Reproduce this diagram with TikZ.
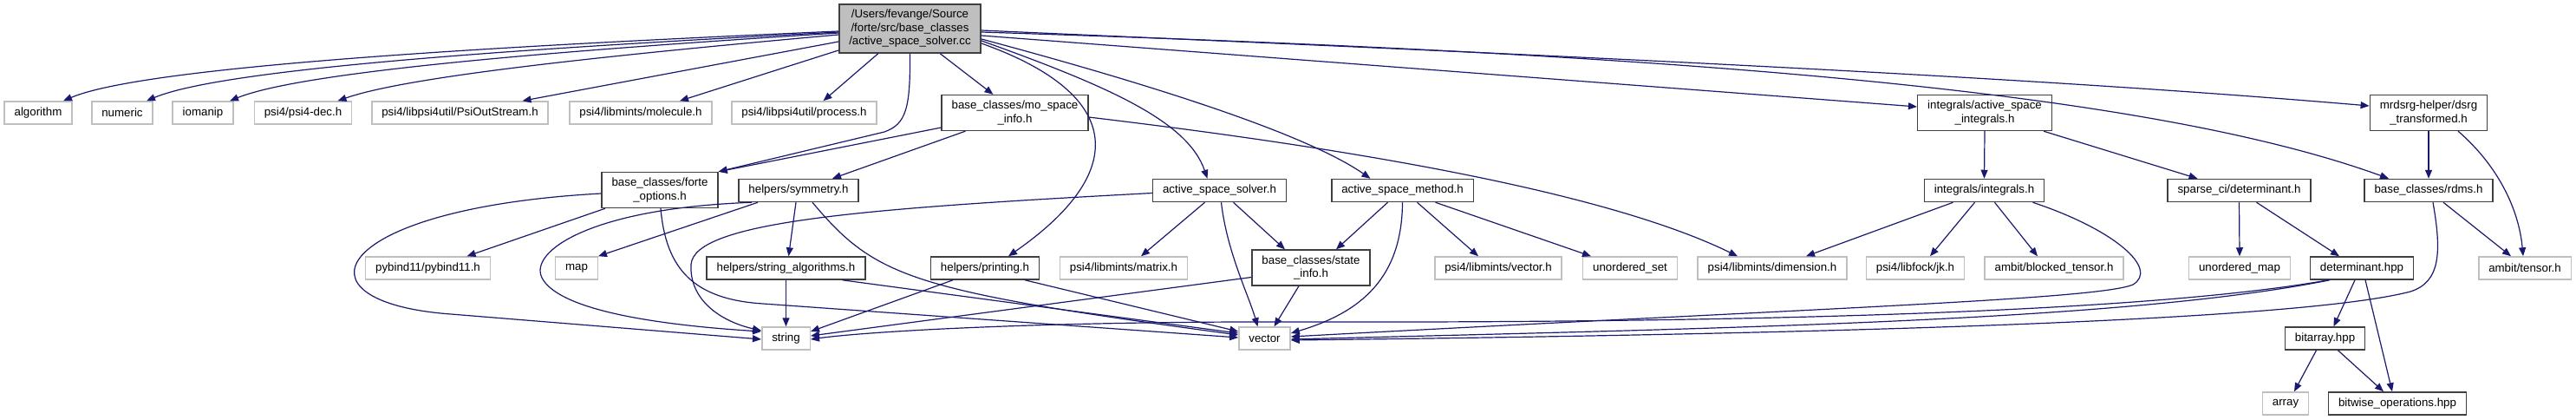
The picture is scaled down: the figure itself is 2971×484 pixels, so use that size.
\documentclass[tikz,border=0pt]{standalone}
\usepackage{fontspec}
\setmainfont{Liberation Sans}
\usetikzlibrary{arrows.meta}
\definecolor{edgec}{HTML}{191970}
\definecolor{extc}{HTML}{BFBFBF}
\definecolor{docc}{HTML}{404040}
\definecolor{rootfill}{HTML}{BFBFBF}
\begin{document}
\begin{tikzpicture}[x=1pt,y=-1pt,
  box/.style={draw, line width=1.5pt, inner xsep=11.5pt, inner ysep=6.5pt, minimum height=26pt, align=center, font=\fontsize{13.3}{15.5}\selectfont},
  doc/.style={box, draw=docc},
  ext/.style={box, draw=extc},
  rootbox/.style={box, draw=docc, fill=rootfill},
  lnk/.style={draw=edgec, line width=1.2pt, -{Triangle[length=10pt,width=8pt]}}
]
\fill[white] (0,0) rectangle (2971,484);
\useasboundingbox (0,0) rectangle (2971,484);

\node[rootbox] (root) at (1049.5,33) {/Users/fevange/Source\\/forte/src/base\_classes\\/active\_space\_solver.cc};
\node[ext] (algorithm) at (44,130) {algorithm};
\node[ext] (numeric) at (141,130) {numeric};
\node[ext] (iomanip) at (234,130) {iomanip};
\node[ext] (psidec) at (349.5,130) {psi4/psi4-dec.h};
\node[ext] (psiout) at (530.5,130) {psi4/libpsi4util/PsiOutStream.h};
\node[ext] (molecule) at (739,130) {psi4/libmints/molecule.h};
\node[ext] (process) at (927.5,130) {psi4/libpsi4util/process.h};
\node[doc] (mospace) at (1170.5,130) {base\_classes/mo\_space\\\_info.h};
\node[doc] (asint) at (2289,130) {integrals/active\_space\\\_integrals.h};
\node[doc] (dsrg) at (2801,130) {mrdsrg-helper/dsrg\\\_transformed.h};
\node[doc] (forte) at (761,219) {base\_classes/forte\\\_options.h};
\node[doc] (symmetry) at (921,219.5) {helpers/symmetry.h};
\node[doc] (assolver) at (1406.5,219.5) {active\_space\_solver.h};
\node[doc] (asmethod) at (1617.5,219.5) {active\_space\_method.h};
\node[doc] (integrals) at (2288.5,219.5) {integrals/integrals.h};
\node[doc] (sparsedet) at (2582.5,219.5) {sparse\_ci/determinant.h};
\node[doc] (rdms) at (2801,219.5) {base\_classes/rdms.h};
\node[ext] (pybind) at (493.5,309) {pybind11/pybind11.h};
\node[ext] (map) at (665,309) {map};
\node[doc] (stralg) at (906.5,309) {helpers/string\_algorithms.h};
\node[doc] (printing) at (1136,309) {helpers/printing.h};
\node[ext] (matrix) at (1296,309) {psi4/libmints/matrix.h};
\node[doc] (stateinfo) at (1512,308.5) {base\_classes/state\\\_info.h};
\node[ext] (vectorh) at (1728,309) {psi4/libmints/vector.h};
\node[ext] (uset) at (1880,309) {unordered\_set};
\node[ext] (dimension) at (2044,309) {psi4/libmints/dimension.h};
\node[ext] (jk) at (2209,309) {psi4/libfock/jk.h};
\node[ext] (blocked) at (2369,309) {ambit/blocked\_tensor.h};
\node[ext] (umap) at (2583,309) {unordered\_map};
\node[doc] (dethpp) at (2724,309) {determinant.hpp};
\node[ext] (tensor) at (2912,309) {ambit/tensor.h};
\node[ext] (string) at (906.5,390) {string};
\node[ext] (vector) at (1458.5,390) {vector};
\node[doc] (bitarray) at (2681.5,390) {bitarray.hpp};
\node[ext] (array) at (2636,465) {array};
\node[doc] (bitwise) at (2765,465) {bitwise\_operations.hpp};

% root
\draw[lnk] ([yshift=-3pt]root.west) .. controls (600,52) and (170,75) .. ([xshift=29pt]algorithm.north);
\draw[lnk] ([yshift=-4pt]root.west) .. controls (620,55) and (260,78) .. ([xshift=28pt]numeric.north);
\draw[lnk] ([yshift=-5pt]root.west) .. controls (650,58) and (350,82) .. ([xshift=31pt]iomanip.north);
\draw[lnk] ([yshift=-7pt]root.west) .. controls (700,64) and (470,88) .. ([xshift=40pt]psidec.north);
\draw[lnk] ([yshift=-15pt]root.west) -- ([xshift=72pt]psiout.north);
\draw[lnk] ([yshift=-25pt]root.west) -- ([xshift=45pt]molecule.north);
\draw[lnk] ([xshift=-37pt]root.south) -- ([xshift=22pt]process.north);
\draw[lnk] ([xshift=35pt]root.south) -- ([xshift=-25pt]mospace.north);
\draw[lnk] (root.south) .. controls (1050,125) and (1045,143) .. (1020,152) -- (forte.north east);
\draw[lnk] ([yshift=-17pt]root.east) .. controls (1300,110) and (1300,200) .. ([xshift=27pt]printing.north);
\draw[lnk] ([yshift=-14pt]root.east) .. controls (1280,100) and (1370,140) .. ([xshift=-14pt]assolver.north);
\draw[lnk] ([yshift=-12pt]root.east) .. controls (1300,90) and (1500,150) .. ([xshift=-37pt]asmethod.north);
\draw[lnk] ([yshift=-8pt]root.east) -- ([yshift=7pt]asint.west);
\draw[lnk] ([yshift=-2pt]root.east) .. controls (1700,60) and (2300,85) .. ([yshift=8pt]dsrg.west);
\draw[lnk] ([yshift=-4pt]root.east) .. controls (1850,60) and (2450,95) .. ([xshift=-46pt]rdms.north);
% mo_space_info
\draw[lnk] ([yshift=-17pt]mospace.west) -- (forte.north east);
\draw[lnk] ([xshift=-57pt]mospace.south) -- ([xshift=39pt]symmetry.north);
\draw[lnk] ([yshift=-5pt]mospace.east) .. controls (1550,170) and (1850,220) .. ([xshift=-40pt]dimension.north);
% forte_options
\draw[lnk] ([xshift=-63pt]forte.south) -- ([xshift=45pt]pybind.north);
\draw[lnk] ([yshift=-4pt]forte.west) .. controls (380,240) and (330,348) .. (520,362) -- ([yshift=-1pt]string.west);
\draw[lnk] ([xshift=1pt]forte.south) .. controls (768,310) and (800,345) .. (880,350) -- ([yshift=1pt]vector.west);
% symmetry
\draw[lnk] ([xshift=-47pt]symmetry.south) -- ([xshift=25pt]map.north);
\draw[lnk] ([xshift=-54pt]symmetry.south) .. controls (680,240) and (610,290) .. (625,320) .. controls (640,350) and (720,372) .. ([yshift=8pt]string.west);
\draw[lnk] ([xshift=-3pt]symmetry.south) -- ([xshift=3pt]stralg.north);
\draw[lnk] ([xshift=16pt]symmetry.south) .. controls (1010,320) and (1050,335) .. ([yshift=4pt]vector.west);
% string_algorithms
\draw[lnk] (stralg.south) -- (string.north);
\draw[lnk] ([xshift=65pt]stralg.south) -- ([yshift=6pt]vector.west);
% printing
\draw[lnk] ([xshift=-37pt]printing.south) -- ([yshift=8pt]string.east);
\draw[lnk] ([xshift=46pt]printing.south) -- ([yshift=8pt]vector.west);
% active_space_solver
\draw[lnk] ([yshift=-3pt]assolver.west) .. controls (1000,240) and (800,255) .. (797,305) .. controls (795,345) and (830,370) .. ([yshift=9pt]string.west);
\draw[lnk] ([xshift=-17pt]assolver.south) -- ([xshift=20pt]matrix.north);
\draw[lnk] ([xshift=2pt]assolver.south) .. controls (1415,290) and (1440,340) .. ([xshift=-8pt]vector.north);
\draw[lnk] ([xshift=16pt]assolver.south) -- ([xshift=-30pt]stateinfo.north);
% active_space_method
\draw[lnk] ([xshift=-17pt]asmethod.south) -- ([xshift=29pt]stateinfo.north);
\draw[lnk] (asmethod.south) .. controls (1617,320) and (1570,360) .. ([yshift=6pt]vector.east);
\draw[lnk] ([xshift=17pt]asmethod.south) -- ([xshift=-23pt]vectorh.north);
\draw[lnk] ([xshift=38pt]asmethod.south) -- ([xshift=-45pt]uset.north);
% state_info
\draw[lnk] ([yshift=-11pt]stateinfo.west) -- ([yshift=3pt]string.east);
\draw[lnk] ([xshift=-14pt]stateinfo.south) -- ([xshift=11pt]vector.north);
% integrals
\draw[lnk] ([xshift=-36pt]integrals.south) -- ([xshift=39pt]dimension.north);
\draw[lnk] ([xshift=-11pt]integrals.south) -- ([xshift=17pt]jk.north);
\draw[lnk] ([xshift=12pt]integrals.south) -- ([xshift=-19pt]blocked.north);
\draw[lnk] ([xshift=56pt]integrals.south) .. controls (2440,265) and (2490,310) .. (2460,328) .. controls (2420,345) and (2100,355) .. ([yshift=2pt]vector.east);
% sparse_ci/determinant.h
\draw[lnk] (sparsedet.south) -- (umap.north);
\draw[lnk] ([xshift=20pt]sparsedet.south) -- ([xshift=-26pt]dethpp.north);
% determinant.hpp
\draw[lnk] ([xshift=-39pt]dethpp.south) .. controls (2450,365) and (1900,372) .. (1500,371) .. controls (1200,370) and (1000,382) .. ([yshift=-1pt]string.east);
\draw[lnk] ([xshift=-37pt]dethpp.south) .. controls (2450,370) and (2000,378) .. ([yshift=-1pt]vector.east);
\draw[lnk] ([xshift=-8pt]dethpp.south) -- ([xshift=10pt]bitarray.north);
\draw[lnk] ([xshift=4pt]dethpp.south) -- ([xshift=-6pt]bitwise.north);
% rdms
\draw[lnk] ([xshift=5pt]rdms.south) .. controls (2816,290) and (2815,325) .. (2780,336) .. controls (2650,370) and (2100,385) .. ([yshift=-2pt]vector.east);
\draw[lnk] ([xshift=17pt]rdms.south) -- ([xshift=-16pt]tensor.north);
% active_space_integrals
\draw[lnk] (asint.south) -- (integrals.north);
\draw[lnk] ([xshift=68pt]asint.south) -- ([xshift=-48pt]sparsedet.north);
% dsrg_transformed
\draw[lnk] (dsrg.south) -- (rdms.north);
\draw[lnk] ([xshift=34pt]dsrg.south) .. controls (2880,190) and (2905,240) .. ([xshift=-2pt]tensor.north);
% bitarray
\draw[lnk] ([xshift=-10pt]bitarray.south) -- ([xshift=10pt]array.north);
\draw[lnk] ([xshift=15pt]bitarray.south) -- ([xshift=-16pt]bitwise.north);
\end{tikzpicture}
\end{document}
